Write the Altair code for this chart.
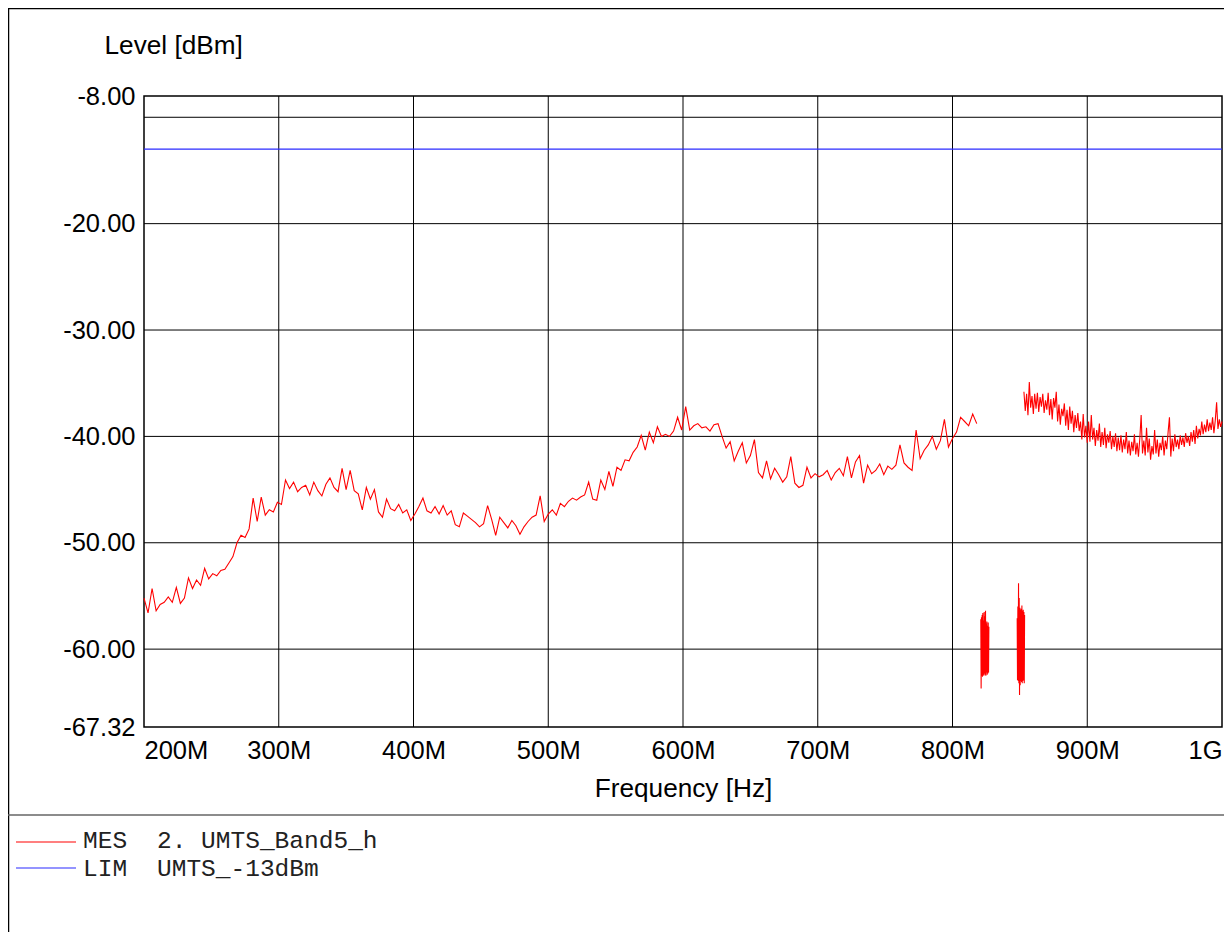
import altair as alt
import pandas as pd

# ---------------- data ----------------
x_tick_values = [200, 300, 400, 500, 600, 700, 800, 900, 1000]
x_tick_labels = ["200M", "300M", "400M", "500M", "600M", "700M", "800M", "900M", "1G"]
x_grid = [300, 400, 500, 600, 700, 800, 900]
y_tick_values = [-8, -20, -30, -40, -50, -60, -67.32]
y_tick_labels = ["-8.00", "-20.00", "-30.00", "-40.00", "-50.00", "-60.00", "-67.32"]
y_grid = [-10, -20, -30, -40, -50, -60]
x_domain = [200, 1000]
y_domain = [-67.32, -8]

limit_freq = [200, 1000]
limit_level = [-13, -13]

# sweep 1 (MHz, dBm)
seg1_freq = list(range(200, 819, 3))
seg1_level = [
    -55.2, -56.6, -54.3, -56.4, -55.8, -55.6, -55.1, -55.6, -54.2, -55.7,
    -55.2, -53.3, -54.3, -53.5, -54.0, -52.4, -53.4, -52.9, -53.1, -52.6,
    -52.5, -51.9, -51.3, -50.0, -49.3, -49.5, -48.7, -45.8, -48.0, -45.7,
    -47.4, -46.9, -47.1, -46.2, -46.4, -44.1, -44.9, -44.3, -45.2, -44.8,
    -44.6, -45.5, -44.3, -45.1, -45.6, -44.5, -43.9, -44.8, -45.2, -43.0,
    -45.0, -43.2, -45.1, -45.4, -46.9, -44.8, -45.9, -45.0, -47.1, -47.6,
    -45.9, -46.8, -47.0, -46.4, -47.2, -46.9, -47.9, -47.3, -46.6, -45.8,
    -47.0, -47.2, -46.6, -47.3, -46.5, -47.4, -47.0, -48.3, -48.5, -47.2,
    -47.5, -47.8, -48.1, -48.5, -48.2, -46.5, -47.8, -49.3, -47.6, -48.1,
    -48.6, -47.9, -48.4, -49.2, -48.5, -48.0, -47.6, -47.4, -45.6, -48.0,
    -47.3, -46.9, -47.4, -46.3, -46.6, -46.1, -45.8, -46.0, -45.7, -45.5,
    -44.3, -45.9, -46.0, -44.1, -45.0, -43.3, -44.7, -42.9, -43.2, -42.2,
    -42.3, -41.5, -41.0, -39.9, -41.3, -39.6, -40.6, -39.1, -40.0, -39.8,
    -40.0, -39.5, -38.2, -39.4, -37.2, -39.4, -39.0, -38.8, -39.2, -39.1,
    -39.5, -38.9, -38.8, -40.0, -41.1, -40.5, -42.3, -41.4, -40.6, -42.5,
    -41.8, -40.3, -43.4, -43.9, -42.3, -44.0, -43.0, -43.6, -44.3, -43.8,
    -41.9, -44.4, -44.8, -44.6, -42.9, -43.9, -43.5, -43.8, -43.6, -43.2,
    -44.1, -43.4, -43.0, -43.7, -41.9, -43.9, -42.4, -41.8, -44.4, -42.7,
    -43.5, -43.2, -42.6, -43.6, -42.8, -43.1, -42.7, -40.8, -42.5, -42.9,
    -43.2, -39.4, -42.1, -41.3, -40.8, -40.0, -41.2, -40.4, -38.4, -41.0,
    -40.2, -39.6, -38.2, -38.6, -39.0, -37.9, -38.8,
]

# burst 1
burst1_freq = [821.0, 821.25, 821.5, 821.75, 822.0, 822.25, 822.5, 822.75, 823.0,
               823.25, 823.5, 823.75, 824.0, 824.25, 824.5, 824.75, 825.0, 825.25,
               825.5, 825.75, 826.0, 826.25, 826.5, 826.75, 827.0]
burst1_level = [-57.2, -63.7, -57.0, -62.5, -56.8, -62.6, -56.6, -62.4, -57.3,
                -62.5, -56.5, -62.3, -56.9, -62.4, -56.4, -62.5, -57.6, -62.2,
                -57.4, -62.4, -57.8, -62.3, -57.5, -62.2, -57.9]

# burst 2
burst2_freq = [848.0, 848.25, 848.5, 848.75, 849.0, 849.25, 849.5, 849.75, 850.0,
               850.25, 850.5, 850.75, 851.0, 851.25, 851.5, 851.75, 852.0, 852.25,
               852.5, 852.75, 853.0, 853.25, 853.5]
burst2_level = [-57.1, -62.9, -56.0, -63.0, -53.8, -63.2, -55.2, -64.3, -56.1,
                -63.4, -56.3, -63.0, -56.2, -63.1, -55.9, -63.2, -56.4, -63.0,
                -56.3, -62.9, -56.5, -63.2, -56.8]

# sweep 2
seg2_freq = list(range(853, 1001))
seg2_level = [
    -35.8, -37.6, -36.0, -38.0, -34.9, -37.3, -36.2, -37.9, -36.0, -37.4,
    -35.9, -37.7, -36.3, -37.2, -36.0, -37.8, -36.6, -37.5, -35.9, -38.0,
    -36.5, -38.4, -36.4, -37.3, -35.8, -38.6, -37.0, -38.9, -37.4, -38.1,
    -36.9, -39.0, -37.5, -39.4, -37.2, -38.8, -37.6, -39.6, -38.0, -39.2,
    -37.8, -39.5, -38.6, -40.3, -37.9, -40.1, -39.0, -40.6, -38.6, -40.5,
    -38.0, -40.3, -39.2, -40.9, -39.4, -40.4, -38.8, -41.0, -39.6, -40.8,
    -39.2, -41.1, -39.8, -40.6, -39.5, -41.2, -40.0, -41.0, -39.7, -41.4,
    -40.1, -41.3, -39.9, -41.5, -40.3, -41.2, -39.6, -41.6, -40.4, -41.8,
    -40.5, -41.4, -39.8, -41.7, -40.6, -41.9, -40.2, -38.0, -41.6, -40.4,
    -41.8, -39.2, -41.5, -40.2, -42.2, -40.9, -41.7, -39.4, -41.6, -40.3,
    -41.9, -40.6, -41.3, -40.0, -41.8, -40.4, -41.2, -39.6, -38.2, -41.9,
    -40.2, -41.4, -39.8, -41.0, -40.3, -41.2, -39.9, -40.8, -40.1, -41.0,
    -39.7, -40.6, -40.0, -40.9, -39.6, -40.5, -39.4, -40.7, -39.0, -40.2,
    -39.3, -39.9, -38.6, -39.8, -38.9, -39.6, -38.4, -39.5, -38.7, -39.4,
    -38.2, -39.7, -38.5, -36.8, -39.3, -38.4, -39.1, -38.6,
]

legend_codes = ["MES", "LIM"]
legend_names = ["2. UMTS_Band5_h", "UMTS_-13dBm"]
legend_colors = ["#ff0000", "#2a2aff"]

# ---------------- tables ----------------
parts = []
for sid, (f, v) in enumerate([(seg1_freq, seg1_level), (burst1_freq, burst1_level),
                              (burst2_freq, burst2_level), (seg2_freq, seg2_level)]):
    d = pd.DataFrame({"freq": f, "level": v})
    d["segment"] = sid
    parts.append(d)
trace_df = pd.concat(parts, ignore_index=True)
limit_df = pd.DataFrame({"freq": limit_freq, "level": limit_level})
one = pd.DataFrame({"a": [0]})

# ---------------- layout / style ----------------
W, H = 1078, 631
PAD = {"left": 136, "top": 88, "right": 2, "bottom": 205}
FONT = "Liberation Sans"
MONO = "Liberation Mono"
FS = 25.5
TFS = 26.2

xs = alt.Scale(domain=x_domain, nice=False, zero=False)
ys = alt.Scale(domain=y_domain, nice=False, zero=False)

x_label_expr = f"{x_tick_labels}[indexof({x_tick_values}, datum.value)]"
y_label_expr = f"{y_tick_labels}[indexof({y_tick_values}, datum.value)]"

x_axis = alt.Axis(values=x_tick_values, labelExpr=x_label_expr, labelFlush=True,
                  labelOverlap=False, grid=False, ticks=False, tickSize=0, domain=False,
                  labelFont=FONT, labelFontSize=FS, labelColor="black", labelPadding=11,
                  title="Frequency [Hz]", titleFont=FONT, titleFontSize=TFS,
                  titleFontWeight="normal", titleColor="black",
                  titleBaseline="alphabetic", titleY=69)
y_axis = alt.Axis(values=y_tick_values, labelExpr=y_label_expr, labelFlush=False,
                  labelOverlap=False, grid=False, ticks=False, tickSize=0, domain=False,
                  labelFont=FONT, labelFontSize=FS, labelColor="black", labelPadding=9,
                  title="Level [dBm]", titleFont=FONT, titleFontSize=TFS,
                  titleFontWeight="normal", titleColor="black", titleAngle=0,
                  titleAlign="left", titleBaseline="alphabetic", titleX=-40, titleY=-43)

xgrid = alt.Chart(pd.DataFrame({"freq": x_grid})).mark_rule(color="#000000", strokeWidth=1).encode(
    x=alt.X("freq:Q", scale=xs, axis=x_axis, title="Frequency [Hz]"))
ygrid = alt.Chart(pd.DataFrame({"level": y_grid})).mark_rule(color="#000000", strokeWidth=1).encode(
    y=alt.Y("level:Q", scale=ys, axis=y_axis, title="Level [dBm]"))

limit = alt.Chart(limit_df).mark_line(color=legend_colors[1], strokeWidth=1.2).encode(
    x=alt.X("freq:Q", scale=xs, axis=x_axis, title="Frequency [Hz]"),
    y=alt.Y("level:Q", scale=ys, axis=y_axis, title="Level [dBm]"))

trace = alt.Chart(trace_df).mark_line(color=legend_colors[0], strokeWidth=1.1).encode(
    x=alt.X("freq:Q", scale=xs, axis=x_axis, title="Frequency [Hz]"),
    y=alt.Y("level:Q", scale=ys, axis=y_axis, title="Level [dBm]"),
    detail="segment:N",
    order="freq:Q")


def hrule(x1, x2, y, color, w):
    return alt.Chart(one).mark_rule(color=color, strokeWidth=w).encode(
        x=alt.value(x1), x2=alt.value(x2), y=alt.value(y))


def vrule(x, y1, y2, color, w):
    return alt.Chart(one).mark_rule(color=color, strokeWidth=w).encode(
        x=alt.value(x), y=alt.value(y1), y2=alt.value(y2))


decor = [
    vrule(-135.5, -88, H + PAD["bottom"], "#000000", 1.5),
    hrule(-136, W + PAD["right"], -87.5, "#000000", 1.5),
    hrule(-136, W + PAD["right"], 719, "#666666", 1.5),
]

legend_layers = []
row_rule_y = [746, 772]
row_text_y = [752, 780]
for i in range(len(legend_codes)):
    legend_layers.append(hrule(-128, -68, row_rule_y[i], legend_colors[i], 1.2))
    legend_layers.append(
        alt.Chart(one).mark_text(font=MONO, fontSize=24.5, align="left",
                                 baseline="alphabetic", color="#222222").encode(
            x=alt.value(-61), y=alt.value(row_text_y[i]), text=alt.value(legend_codes[i])))
    legend_layers.append(
        alt.Chart(one).mark_text(font=MONO, fontSize=24.5, align="left",
                                 baseline="alphabetic", color="#222222").encode(
            x=alt.value(13), y=alt.value(row_text_y[i]), text=alt.value(legend_names[i])))

chart = alt.layer(xgrid, ygrid, limit, trace, *decor, *legend_layers).properties(
    width=W, height=H, padding=PAD,
    autosize=alt.AutoSizeParams(type="none"),
    background="white",
).configure_view(stroke="#000000", strokeWidth=1.5)

chart.save("out.html", embed_options={"renderer": "svg", "actions": False})
